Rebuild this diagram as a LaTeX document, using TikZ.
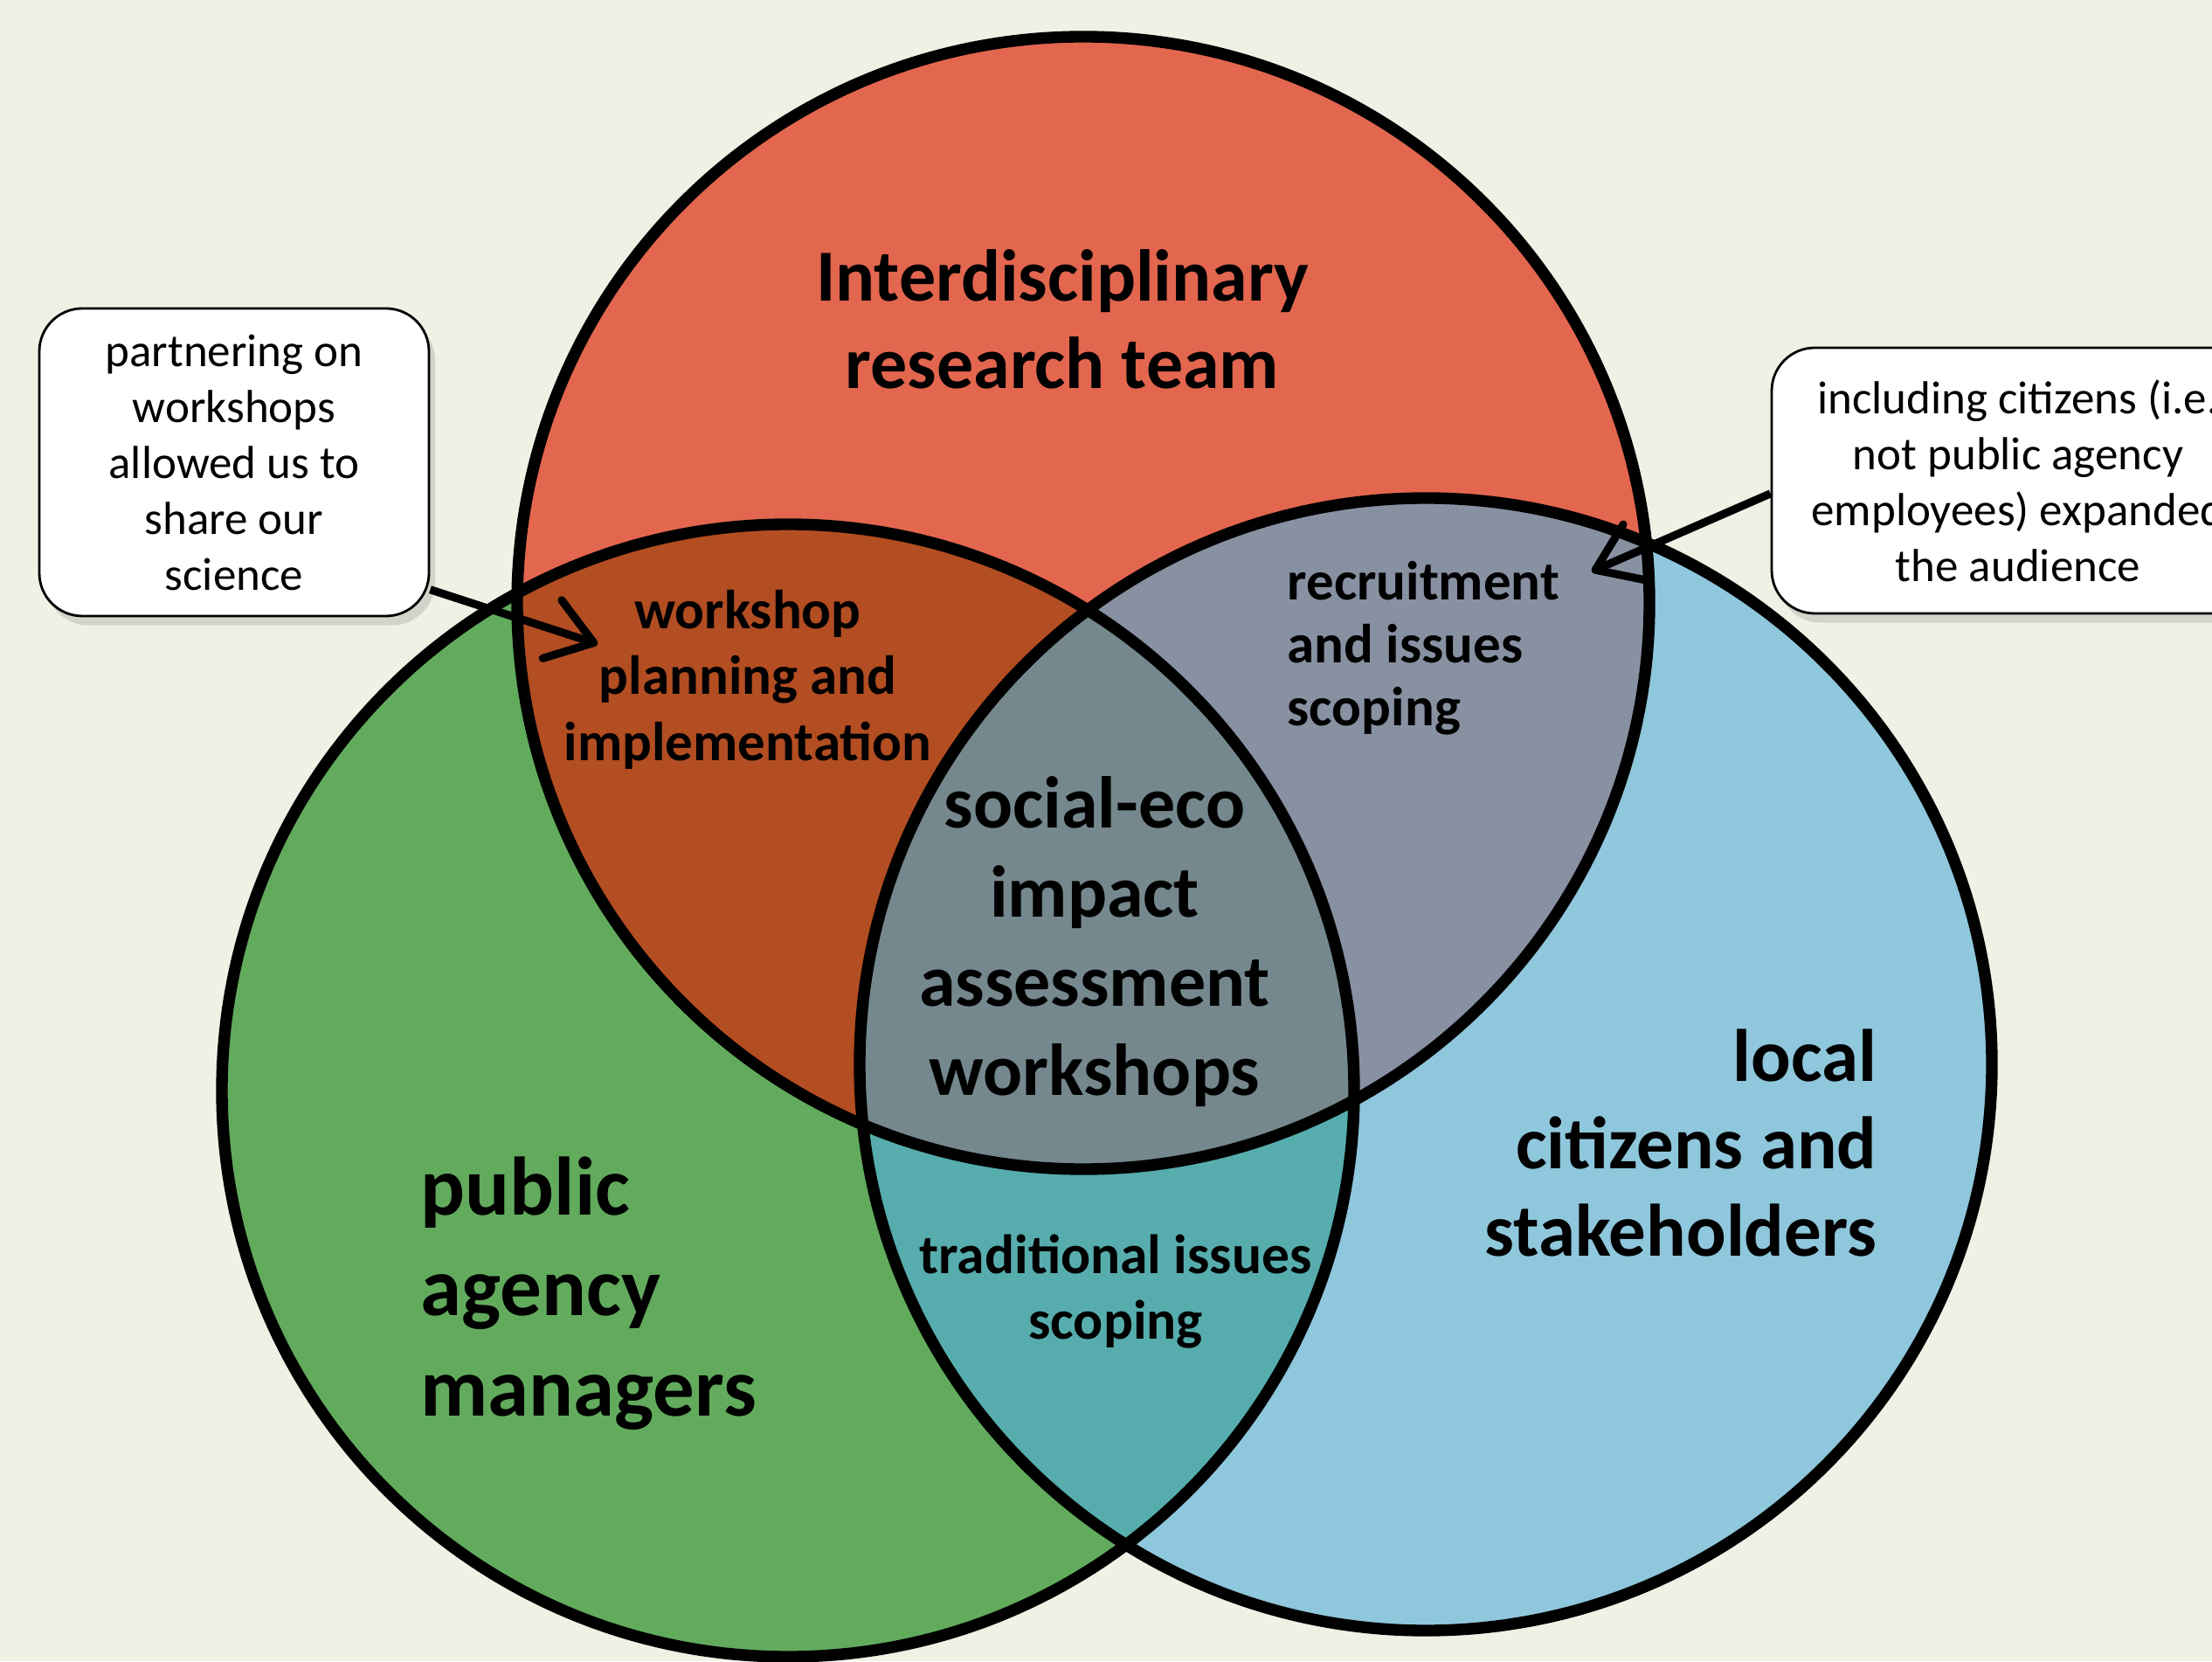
\documentclass[tikz,border=0pt]{standalone}
\usepackage{fontspec}
\setmainfont{Carlito}
\usetikzlibrary{arrows.meta,positioning,shadows}

\definecolor{paper}{HTML}{EEF1E4}
\definecolor{teamred}{HTML}{E3664F}
\definecolor{agencygreen}{HTML}{62AB5D}
\definecolor{citizenblue}{HTML}{8FC7DC}
\definecolor{teamagency}{HTML}{B34D22}
\definecolor{teamcitizen}{HTML}{8891A2}
\definecolor{agencycitizen}{HTML}{57ADAD}
\definecolor{allthree}{HTML}{74888E}

\newcommand\vennrad{6.48}

\begin{document}
\begin{tikzpicture}[
    ring/.style={draw=black, line width=3.8pt},
    vennlabel/.style={inner sep=0pt, anchor=base},
    notebox/.style={draw=black, fill=white, rounded corners=14pt, line width=0.8pt,
      align=center, inner sep=0pt, font=\fontsize{5.3mm}{6.4mm}\selectfont,
      drop shadow={opacity=0.25, shadow xshift=2pt, shadow yshift=-3pt}},
    notearrow/.style={line width=2.6pt, -{Straight Barb[length=5mm, width=7mm, round]}}
  ]
  \clip (0,0) rectangle (25.32,19.01);
  \fill[paper] (0,0) rectangle (25.32,19.01);

  \coordinate (team) at (12.40,12.11);
  \coordinate (agency) at (9.02,6.53);
  \coordinate (citizens) at (16.32,6.83);

  \fill[teamred] (team) circle (\vennrad);
  \fill[agencygreen] (agency) circle (\vennrad);
  \fill[citizenblue] (citizens) circle (\vennrad);
  \begin{scope}
    \clip (team) circle (\vennrad);
    \fill[teamagency] (agency) circle (\vennrad);
    \fill[teamcitizen] (citizens) circle (\vennrad);
  \end{scope}
  \begin{scope}
    \clip (agency) circle (\vennrad);
    \fill[agencycitizen] (citizens) circle (\vennrad);
    \clip (team) circle (\vennrad);
    \fill[allthree] (citizens) circle (\vennrad);
  \end{scope}
  \draw[ring] (team) circle (\vennrad);
  \draw[ring] (agency) circle (\vennrad);
  \draw[ring] (citizens) circle (\vennrad);

  \node[vennlabel, align=center, font=\bfseries\fontsize{8.4mm}{10mm}\selectfont] (teamtxt) at (12.16,14.56) {Interdisciplinary\\research team};
  \node[vennlabel, align=center, font=\bfseries\fontsize{6.3mm}{7.55mm}\selectfont] (plantxt) at (8.56,10.31) {workshop\\planning and\\implementation};
  \node[vennlabel, anchor=base west, align=left, font=\bfseries\fontsize{6.3mm}{7.15mm}\selectfont] (recruittxt) at (14.73,10.71) {recruitment\\and issues\\scoping};
  \node[vennlabel, align=center, font=\bfseries\fontsize{8.4mm}{10.2mm}\selectfont] (coretxt) at (12.53,6.48) {social-eco\\impact\\assessment\\workshops};
  \node[vennlabel, anchor=base west, align=left, font=\bfseries\fontsize{9.5mm}{11.5mm}\selectfont] (agencytxt) at (4.81,2.81) {public\\agency\\managers};
  \node[vennlabel, anchor=base east, align=right, font=\bfseries\fontsize{8.5mm}{10mm}\selectfont] (citizentxt) at (21.49,4.64) {local\\citizens and\\stakeholders};
  \node[vennlabel, align=center, font=\bfseries\fontsize{6.35mm}{7.5mm}\selectfont] (tradtxt) at (12.77,3.69) {traditional issues\\scoping};

  \coordinate (plantip) at (6.84,11.64);
  \coordinate (recruittip) at (18.22,12.47);
  \node[notebox, minimum width=4.46cm, minimum height=3.52cm] (sharebox) at (2.68,13.72)
    {partnering on\\workshops\\allowed us to\\share our\\science};
  \node[notebox, minimum width=5.64cm, minimum height=3.04cm] (audiencebox) at (23.10,13.51)
    {including citizens (i.e.\\not public agency\\employees) expanded\\the audience};
  \draw[notearrow] (sharebox.-33) -- (plantip);
  \draw[notearrow] (audiencebox.183) -- (recruittip);
\end{tikzpicture}
\end{document}
